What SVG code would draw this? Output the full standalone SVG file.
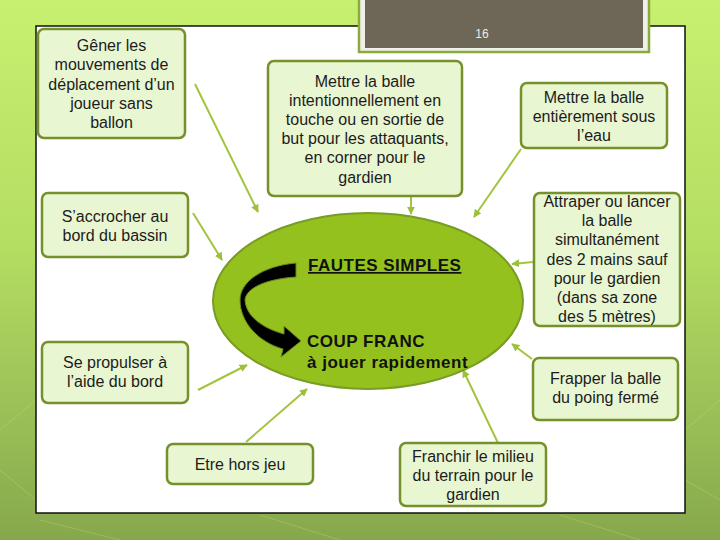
<svg xmlns="http://www.w3.org/2000/svg" width="720" height="540" viewBox="0 0 720 540">
<defs>
<linearGradient id="bg" x1="0" y1="0" x2="0" y2="1">
<stop offset="0" stop-color="#c8f070"/>
<stop offset="0.45" stop-color="#b4de62"/>
<stop offset="0.8" stop-color="#98bc56"/>
<stop offset="1" stop-color="#86a84c"/>
</linearGradient>
<marker id="ah" viewBox="0 0 10 10" refX="9" refY="5" markerWidth="8" markerHeight="8" markerUnits="userSpaceOnUse" orient="auto">
<path d="M0,0 L10,5 L0,10 Z" fill="#9cc03a"/>
</marker>
<style>
.box{fill:#e9f6d2;stroke:#76912b;stroke-width:2.5}
.t{font-family:"Liberation Sans",Arial,sans-serif;font-size:16px;fill:#1c1c1c;text-anchor:middle}
.b{font-family:"Liberation Sans",Arial,sans-serif;font-size:17px;font-weight:bold;fill:#111;letter-spacing:0.5px}
.c{stroke:#a2c43e;stroke-width:2;fill:none;marker-end:url(#ah)}
</style>
</defs>
<rect x="0" y="0" width="720" height="540" fill="url(#bg)"/>
<g stroke="#d8f090" stroke-opacity="0.25" stroke-width="1" fill="none">
<path d="M0,430 L36,400 M0,470 L36,500 M685,430 L720,400 M685,480 L720,500 M40,520 L120,540 M260,515 L340,540 M560,515 L640,540"/>
</g>
<rect x="36" y="26" width="649" height="487" fill="#ffffff" stroke="#111" stroke-width="1.5"/>
<g id="slide-number">
<rect x="359" y="-4" width="290" height="56" fill="#f0f0ea" stroke="#8aab3c" stroke-width="2.5"/>
<rect x="365" y="-4" width="278" height="52" fill="#6e6657"/>
<text x="482" y="38" font-family="Liberation Sans, Arial, sans-serif" font-size="12" fill="#ecebe4" text-anchor="middle">16</text>
</g>
<g id="connectors">
<line class="c" x1="195" y1="84" x2="258" y2="212"/>
<line class="c" x1="411" y1="197" x2="411" y2="214"/>
<line class="c" x1="521" y1="149" x2="474" y2="217"/>
<line class="c" x1="193" y1="213" x2="222" y2="260"/>
<line class="c" x1="533" y1="262" x2="512" y2="264"/>
<line class="c" x1="532" y1="359" x2="512" y2="344"/>
<line class="c" x1="198" y1="390" x2="247" y2="365"/>
<line class="c" x1="246" y1="442" x2="307" y2="389"/>
<line class="c" x1="498" y1="443" x2="463" y2="370"/>
</g>
<g id="center">
<ellipse cx="368" cy="301" rx="155" ry="88" fill="#95c11f" stroke="#789c25" stroke-width="2"/>
<path d="M296,263 C262,266 240,282 240,300 C240,322 258,342 283,349 L281,357 L301,341 L284,326 L284,334 C262,328 246,316 245,300 C246,288 266,279 296,277 Z" fill="#000" stroke="#6a8a1e" stroke-width="1"/>
<text class="b" x="308" y="271" text-decoration="underline">FAUTES SIMPLES</text>
<text class="b" x="307" y="347">COUP FRANC</text>
<text class="b" x="307" y="368">à jouer rapidement</text>
</g>
<g id="n1">
<rect class="box" x="38" y="29" width="147" height="109" rx="6"/>
<text class="t"><tspan x="111.5" y="51">Gêner les</tspan><tspan x="111.5" y="70.3">mouvements de</tspan><tspan x="111.5" y="89.5">déplacement d’un</tspan><tspan x="111.5" y="108.8">joueur sans</tspan><tspan x="111.5" y="128">ballon</tspan></text>
</g>
<g id="n2">
<rect class="box" x="268" y="61" width="194" height="135" rx="6"/>
<text class="t"><tspan x="365" y="86.5">Mettre la balle</tspan><tspan x="365" y="105.7">intentionnellement en</tspan><tspan x="365" y="124.9">touche ou en sortie de</tspan><tspan x="365" y="144.1">but pour les attaquants,</tspan><tspan x="365" y="163.3">en corner pour le</tspan><tspan x="365" y="182.5">gardien</tspan></text>
</g>
<g id="n3">
<rect class="box" x="521" y="83" width="146" height="65" rx="6"/>
<text class="t"><tspan x="594" y="102.5">Mettre la balle</tspan><tspan x="594" y="121.7">entièrement sous</tspan><tspan x="594" y="141">l’eau</tspan></text>
</g>
<g id="n4">
<rect class="box" x="42" y="193" width="146" height="64" rx="6"/>
<text class="t"><tspan x="115" y="221.5">S’accrocher au</tspan><tspan x="115" y="241">bord du bassin</tspan></text>
</g>
<g id="n5">
<rect class="box" x="42" y="342" width="146" height="61" rx="6"/>
<text class="t"><tspan x="115" y="367.5">Se propulser à</tspan><tspan x="115" y="386.7">l’aide du bord</tspan></text>
</g>
<g id="n6">
<rect class="box" x="534" y="193" width="146" height="133" rx="6"/>
<text class="t"><tspan x="607" y="207">Attraper ou lancer</tspan><tspan x="607" y="226.2">la balle</tspan><tspan x="607" y="245.4">simultanément</tspan><tspan x="607" y="264.6">des 2 mains sauf</tspan><tspan x="607" y="283.8">pour le gardien</tspan><tspan x="607" y="303">(dans sa zone</tspan><tspan x="607" y="322.2">des 5 mètres)</tspan></text>
</g>
<g id="n7">
<rect class="box" x="533" y="358" width="145" height="62" rx="6"/>
<text class="t"><tspan x="605.5" y="384">Frapper la balle</tspan><tspan x="605.5" y="403">du poing fermé</tspan></text>
</g>
<g id="n8">
<rect class="box" x="167" y="444" width="146" height="40" rx="6"/>
<text class="t" x="240" y="470">Etre hors jeu</text>
</g>
<g id="n9">
<rect class="box" x="400" y="443" width="146" height="63" rx="6"/>
<text class="t"><tspan x="473" y="461.5">Franchir le milieu</tspan><tspan x="473" y="480.8">du terrain pour le</tspan><tspan x="473" y="500">gardien</tspan></text>
</g>
</svg>
